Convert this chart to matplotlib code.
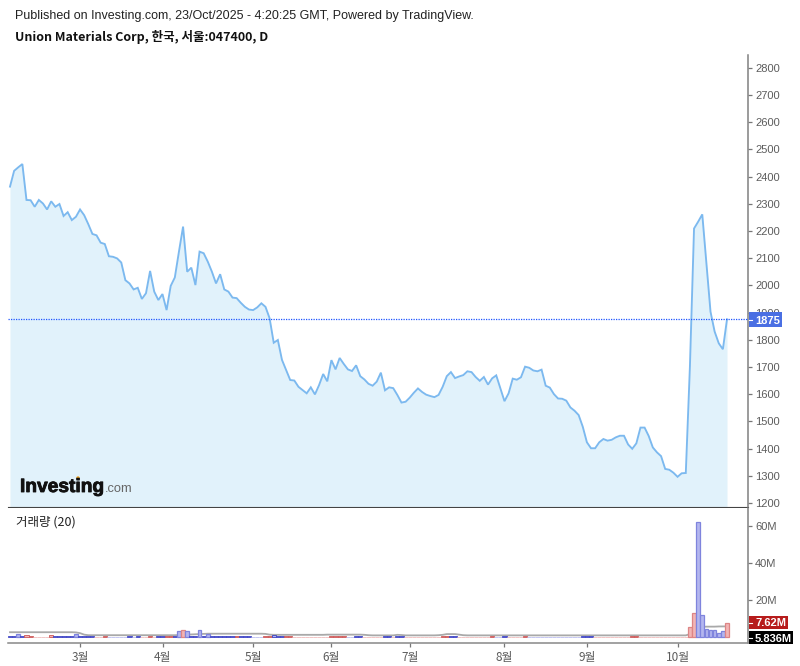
import matplotlib
matplotlib.use("Agg")
import matplotlib.pyplot as plt
from matplotlib.patches import Ellipse, Rectangle
from matplotlib.lines import Line2D
import matplotlib.patheffects as pe

published = "Published on Investing.com, 23/Oct/2025 - 4:20:25 GMT, Powered by TradingView."
title = "Union Materials Corp, 한국, 서울:047400, D"
volume_title = "거래량 (20)"

prices = [
    2363, 2421, 2434, 2446, 2314, 2313, 2289, 2314, 2301, 2279,
    2309, 2289, 2299, 2255, 2269, 2240, 2252, 2279, 2258, 2225,
    2189, 2184, 2157, 2152, 2107, 2105, 2099, 2084, 2019, 2007,
    1985, 1991, 1950, 1971, 2053, 1977, 1946, 1968, 1909, 1998,
    2029, 2124, 2216, 2050, 2065, 2001, 2124, 2118, 2087, 2050,
    2007, 2041, 1985, 1977, 1955, 1953, 1936, 1921, 1911, 1909,
    1919, 1934, 1921, 1879, 1789, 1799, 1726, 1689, 1652, 1650,
    1627,
    1615, 1603, 1625, 1599, 1633, 1674, 1647, 1725, 1691, 1733,
    1711, 1691, 1685, 1706, 1666, 1654, 1638, 1631, 1646, 1679,
    1614, 1625, 1622, 1597, 1569, 1572, 1587, 1605, 1621, 1608,
    1598, 1593, 1589, 1597, 1627, 1666, 1681, 1659, 1665, 1670,
    1684, 1681, 1663, 1649, 1663, 1635, 1658, 1669, 1621, 1574,
    1603, 1657, 1653, 1662, 1701, 1697, 1687, 1684, 1690, 1631,
    1624, 1600, 1584, 1583, 1576, 1551, 1539, 1523,
    1480, 1423, 1401, 1401, 1423, 1435, 1429, 1432, 1441, 1447,
    1447, 1415, 1399, 1419, 1477, 1477, 1446, 1404, 1386, 1372,
    1325, 1322, 1311, 1296, 1309, 1310, 1701, 2209, 2234, 2261,
    2081, 1903, 1830, 1787, 1765, 1875,
]

volumes = [
    0.7, 0.7, 2.0, 0.7, 1.0, 0.9, 0.3, 0.3, 0.3, 0.3,
    1.0, 0.7, 0.7, 0.7, 0.7, 0.7, 1.9, 0.7, 0.7, 0.7,
    0.7, 0.3, 0.3, 0.9, 0.3, 0.3, 0.3, 0.3, 0.3, 0.7,
    0.3, 0.7, 0.3, 0.3, 0.7, 0.3, 0.7, 0.7, 0.9, 0.9,
    0.7, 3.3, 3.8, 3.3, 0.7, 0.6, 4.0, 0.8, 2.0, 0.7,
    0.7, 0.7, 0.7, 0.7, 0.7, 0.7, 0.7, 0.7, 0.7, 0.3,
    0.3, 0.3, 0.7, 0.7, 1.0, 0.7, 0.7, 0.7, 0.7, 0.3,
    0.3, 0.3, 0.3, 0.3, 0.3, 0.3, 0.3, 0.3, 0.7, 0.7,
    0.7, 0.7, 0.3, 0.3, 0.7, 0.7, 0.3, 0.3, 0.3, 0.3,
    0.3, 0.7, 0.7, 0.3, 0.7, 0.7, 0.3, 0.3, 0.3, 0.3,
    0.3, 0.3, 0.3, 0.3, 0.3, 0.7, 0.7, 0.7, 0.7, 0.3,
    0.3, 0.3, 0.3, 0.3, 0.3, 0.3, 0.3, 0.7, 0.3, 0.3,
    0.7, 0.3, 0.3, 0.3, 0.3, 0.7, 0.3, 0.3, 0.3, 0.3,
    0.3, 0.3, 0.3, 0.3, 0.3, 0.3, 0.3, 0.3, 0.3, 0.7,
    0.7, 0.7, 0.3, 0.3, 0.3, 0.3, 0.3, 0.3, 0.3, 0.3,
    0.3, 0.7, 0.7, 0.3, 0.3, 0.3, 0.3, 0.3, 0.3, 0.3,
    0.3, 0.3, 0.3, 0.3, 0.3, 5.3, 13.2, 61.8, 11.8, 4.4,
    3.9, 3.9, 2.1, 3.2, 7.62,
]

vol_colors = (
    "bbbbrrrrrr"
    "rbbbbbbbbb"
    "brrrbbbbbb"
    "bbrrrrbbrr"
    "bbrbbbbbbb"
    "bbbbbrbbbb"
    "bbrrbbbrrr"
    "rrrrrrrrrr"
    "rrbbbbrrrr"
    "rbbrbbrrrr"
    "rrrrrrrbbr"
    "rrrrrrrrbb"
    "brrrrrbbbb"
    "bbbbbbbbbb"
    "bbrrrrrrrr"
    "rrrrrrrrrr"
    "rrrrrrrbbb"
    "bbbbr"
)

volume_ma = [
    2.7, 2.7, 2.7, 2.7, 2.7, 2.7, 2.7, 2.7, 2.7, 2.7,
    2.7, 2.7, 2.7, 2.7, 2.7, 2.7, 2.6, 2.2, 1.4, 1.1,
    1.1, 1.1, 1.1, 1.1, 1.1, 1.1, 1.1, 1.1, 1.1, 1.1,
    1.1, 1.1, 1.1, 1.1, 1.1, 1.1, 1.1, 1.1, 1.1, 1.1,
    1.1, 1.2, 1.3, 1.4, 1.5, 1.6, 1.7, 1.8, 1.9, 1.9,
    1.9, 1.9, 1.9, 1.9, 1.9, 1.9, 1.9, 1.9, 1.9, 1.9,
    1.9, 1.9, 1.8, 1.4, 1.3, 1.3, 1.3, 1.3, 1.3, 1.3,
    1.3, 1.3, 1.3, 1.3, 1.3, 1.3, 1.3, 1.4, 1.4, 1.4,
    1.4, 1.4, 1.4, 1.4, 1.4, 1.4, 1.3, 1.1, 1.0, 1.0,
    1.0, 1.0, 1.0, 1.0, 1.3, 1.2, 1.0, 1.0, 1.0, 1.0,
    1.0, 1.0, 1.0, 1.0, 1.1, 1.3, 1.7, 1.7, 1.7, 1.4,
    1.1, 1.0, 1.0, 1.0, 1.0, 1.0, 1.0, 1.0, 1.0, 1.0,
    1.0, 1.0, 1.0, 1.0, 1.0, 1.0, 1.0, 1.0, 1.0, 1.0,
    1.0, 1.0, 1.0, 1.0, 1.0, 1.0, 1.0, 1.0, 1.0, 1.0,
    1.0, 1.0, 1.0, 1.0, 1.0, 1.0, 1.0, 1.0, 1.0, 1.0,
    1.0, 1.0, 1.0, 1.0, 1.0, 1.0, 1.0, 1.0, 1.0, 1.0,
    1.0, 1.0, 1.0, 1.0, 1.0, 1.7, 4.8, 5.3, 5.6, 5.7,
    5.7, 5.7, 5.8, 5.8, 5.836,
]

price_ticks = [1200, 1300, 1400, 1500, 1600, 1700, 1800, 1900, 2000, 2100,
               2200, 2300, 2400, 2500, 2600, 2700, 2800]
volume_ticks = [20, 40, 60]
volume_tick_labels = ["20M", "40M", "60M"]
month_labels = ["3월", "4월", "5월", "6월", "7월", "8월", "9월", "10월"]
month_positions = [17.0, 37.1, 59.0, 78.0, 97.0, 120.0, 140.0, 162.0]
last_price = 1875
last_price_label = "1875"
last_volume_label = "7.62M"
last_ma_label = "5.836M"

W, H = 800, 666
sans = "Liberation Sans"
cjk = ["Noto Sans CJK KR", "DejaVu Sans"]
GRAY = "#5c5c5c"

fig = plt.figure(figsize=(W / 100, H / 100), dpi=100, facecolor="white")

def fx(p):
    return p / W

def fy(p):
    return 1 - p / H

def make_axes(top, bottom):
    return fig.add_axes([fx(8), fy(bottom), fx(740), (bottom - top) / H])

ax = make_axes(55, 507)
vax = make_axes(508, 643)

n = len(prices)
xs = list(range(n))
step = (727 - 10) / (n - 1)
xlim = ((8 - 10) / step, (748 - 10) / step)

ax.set_xlim(xlim)
ax.set_ylim(1185, 2847)
ax.fill_between(xs, prices, 1000, color="#e1f2fb", lw=0, zorder=1)
ax.plot(xs, prices, color="#7cb9ef", lw=1.35, solid_joinstyle="miter", zorder=3)
ax.axhline(last_price, color="#1f55ff", lw=0.9, ls=(0, (1, 1)), zorder=4)

for s in ("top", "left"):
    ax.spines[s].set_visible(False)
    vax.spines[s].set_visible(False)
for a in (ax, vax):
    a.spines["right"].set_color("#808080")
    a.spines["right"].set_linewidth(1.1)
    a.yaxis.tick_right()
    a.tick_params(axis="y", length=3, width=0.9, color="#777777", pad=2,
                  labelsize=8, labelcolor=GRAY)
ax.spines["bottom"].set_color("#444444")
ax.spines["bottom"].set_linewidth(0.8)
vax.spines["bottom"].set_color("#888888")
vax.spines["bottom"].set_linewidth(1.1)

ax.set_yticks(price_ticks)
ax.set_yticklabels(price_ticks, fontfamily=sans, fontsize=8, color=GRAY)
ax.set_xticks([])

vax.set_xlim(xlim)
vax.set_ylim(-3.1, 69.5)
vax.plot(xs, volume_ma, color="#a0a0a0", lw=1.3, alpha=0.9, zorder=2)
for i, (v, c) in enumerate(zip(volumes, vol_colors)):
    face = "#b3b6ef" if c == "b" else "#f2b5b5"
    if i >= n - 10 or v > 1.5:
        edge = "#7f84dd" if c == "b" else "#dd8585"
        vax.bar(i, v, width=0.88, color=face, edgecolor=edge, linewidth=0.9, zorder=3)
    elif v >= 0.6:
        edge = "#3a3fc4" if c == "b" else "#cc5555"
        vax.bar(i, v, width=1.0, color=face, edgecolor=edge, linewidth=0.6, zorder=3)
    else:
        edge = "#bcbef0" if c == "b" else "#f0bcbc"
        vax.bar(i, v, width=1.0, color=face, edgecolor=edge, linewidth=0.6, zorder=3)
vax.set_yticks(volume_ticks)
vax.set_yticklabels(volume_tick_labels, fontfamily=sans, fontsize=8, color=GRAY)
vax.set_xticks(month_positions)
vax.set_xticklabels(month_labels, family=cjk, fontsize=8.5, color=GRAY)
vax.tick_params(axis="x", length=3, width=0.9, color="#777777", pad=2.5)

fig.text(fx(15), fy(16), published, fontfamily=sans, fontsize=9, color="#222222", va="center")
fig.text(fx(15), fy(37), title, family=cjk, fontsize=9, fontweight="bold", color="#111111", va="center")
fig.text(fx(16), fy(522), volume_title, family=cjk, fontsize=9, color="#222222", va="center")

logo = fig.text(fx(20), fy(492), "Investing", fontfamily=sans, fontsize=13.8, fontweight="bold",
                color="#111111", va="baseline")
logo.set_path_effects([pe.withStroke(linewidth=0.6, foreground="#111111")])
fig.text(fx(105), fy(492), ".com", fontfamily=sans, fontsize=9.3, color="#666666", va="baseline")
fig.add_artist(Ellipse((fx(78), fy(478)), 3.5 / W, 3.5 / H, transform=fig.transFigure,
                       color="#f5a623", lw=0))

def box(left, right, top, bottom, text, bg):
    fig.add_artist(Rectangle((fx(left), fy(bottom)), (right - left) / W, (bottom - top) / H,
                             transform=fig.transFigure, fc=bg, ec="none", zorder=9))
    mid = (top + bottom) / 2
    fig.add_artist(Line2D([fx(left), fx(left + 3)], [fy(mid), fy(mid)],
                          transform=fig.transFigure, color="white", lw=0.8, zorder=10))
    fig.text(fx(755), fy(mid), text, fontfamily=sans, fontsize=8, fontweight="bold",
             color="white", va="center_baseline", ha="left", zorder=11)

box(748.6, 782, 312, 327, last_price_label, "#4a6fe3")
box(748.6, 788, 616, 629, last_volume_label, "#b71c1c")
box(748.6, 793, 631, 644, last_ma_label, "#000000")

fig.savefig("out.png", dpi=100, facecolor="white")
